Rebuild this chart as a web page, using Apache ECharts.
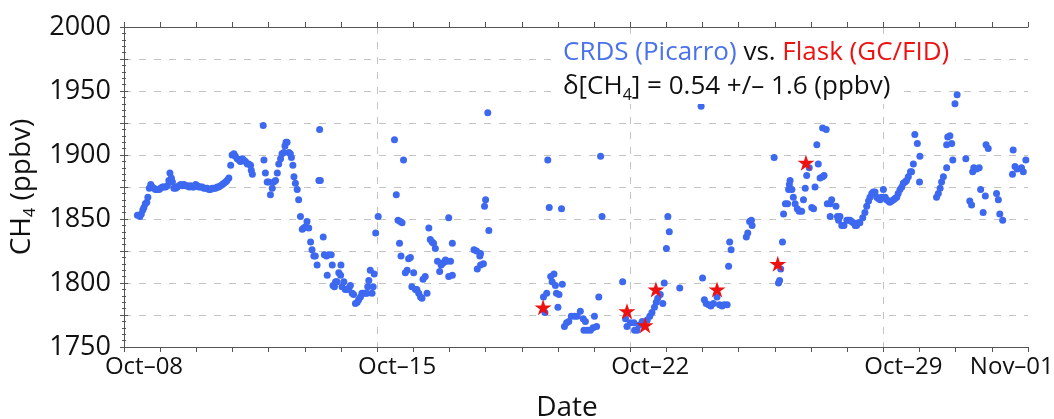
<!DOCTYPE html>
<html><head><meta charset="utf-8">
<script src="https://cdn.jsdelivr.net/npm/echarts@6/dist/echarts.min.js"></script>
<style>html,body{margin:0;padding:0;background:#fff}#c{width:1054px;height:419px}</style>
</head><body><div id="c"></div>
<script>
// days since Oct-08 00:00
const crdsDay = [
0.37,0.44,0.48,0.52,0.55,0.59,0.63,0.66,0.70,0.74,0.78,0.83,0.87,0.92,0.97,1.01,1.06,1.10,1.15,1.20,1.24,1.27,1.31,1.34,1.38,1.43,1.47,1.52,1.57,1.61,1.66,1.70,1.75,1.80,1.84,1.89,1.93,1.98,2.03,2.07,2.12,2.16,2.21,2.26,2.30,2.35,2.39,2.44,2.49,2.53,2.58,2.62,2.67,2.72,2.76,2.81,2.85,2.90,2.95,2.99,3.04,3.08,3.13,3.18,3.22,3.27,3.31,3.36,3.41,3.45,3.50,3.52,3.55,
3.85,3.87,3.91,3.96,4.00,4.05,4.10,4.14,4.19,4.24,4.28,4.33,4.37,4.42,4.45,4.48,4.51,4.56,4.60,4.63,4.67,4.70,4.74,4.79,4.83,4.88,4.93,4.97,5.02,5.06,5.11,5.16,5.20,5.25,5.29,5.34,5.39,5.41,5.43,5.51,5.54,5.60,5.62,5.66,5.73,5.76,5.78,5.82,5.85,5.89,5.94,5.99,6.00,6.03,6.08,6.12,6.17,6.22,6.26,6.31,6.35,6.40,6.45,6.49,6.54,6.58,6.63,6.68,6.72,6.74,6.77,6.81,6.86,6.89,6.92,6.96,7.03,
7.48,7.53,7.58,7.62,7.64,7.66,7.69,7.73,7.78,7.83,7.87,7.92,7.96,8.01,8.06,8.10,8.15,8.20,8.24,8.27,8.33,8.38,8.43,8.47,8.52,8.56,8.61,8.67,8.73,8.77,8.79,8.84,8.89,8.93,8.98,8.98,9.03,9.08,9.08,
9.68,9.75,9.77,9.84,9.86,9.86,9.94,9.97,10.00,10.06,10.09,
11.60,11.64,11.69,11.72,11.76,11.80,11.84,11.89,11.93,11.96,12.00,12.03,12.10,12.12,
12.18,12.24,12.30,12.37,12.46,12.53,12.62,12.70,12.72,12.76,12.81,12.90,12.97,13.01,13.07,13.13,13.18,13.22,
13.79,13.87,13.91,14.00,14.10,14.12,14.19,14.24,14.33,14.47,14.54,14.60,14.67,14.72,14.76,14.83,14.90,14.94,15.00,15.04,15.08,15.37,
15.96,16.00,16.05,16.10,16.17,16.23,16.30,16.40,16.47,16.54,16.60,16.68,16.72,16.75,16.79,17.21,17.25,17.30,17.35,17.37,
17.98,18.10,18.13,18.16,18.21,18.24,18.29,18.35,18.38,18.40,18.42,18.47,18.51,18.56,18.62,18.67,18.74,18.79,18.84,18.88,18.95,19.02,19.07,19.11,19.16,19.20,19.25,19.32,19.32,19.36,19.42,19.45,19.53,19.53,19.57,19.69,19.73,19.76,19.80,19.85,19.91,19.99,20.03,20.08,20.12,20.17,20.22,20.26,20.31,20.35,20.43,20.49,20.54,20.59,20.63,20.68,20.72,20.77,20.82,20.86,20.91,20.95,21.00,21.05,21.09,21.14,21.18,21.23,21.28,21.32,21.37,21.41,21.46,21.51,21.55,21.60,21.64,21.69,21.75,21.78,21.83,21.87,21.94,22.00,22.01,
22.47,22.52,22.57,22.61,22.66,22.75,22.75,22.78,22.84,22.89,22.92,22.98,23.04,23.28,23.39,23.44,23.47,23.50,23.58,23.65,23.69,23.76,23.82,23.84,23.90,24.13,24.18,24.22,24.30,24.57,24.59,24.64,24.70,24.82,24.87,24.94
];
const crdsCH4 = [
1853,1852,1854,1857,1859,1862,1863,1867,1874,1877,1875,1874,1873,1873,1873,1874,1875,1875,1875,1876,1880,1886,1882,1879,1874,1874,1875,1876,1877,1876,1877,1876,1876,1875,1876,1875,1875,1877,1876,1875,1875,1875,1874,1874,1874,1873,1873,1874,1874,1874,1875,1875,1876,1877,1878,1879,1880,1882,1892,1900,1901,1899,1897,1896,1895,1897,1896,1895,1893,1893,1892,1888,1885,
1923,1896,1886,1879,1879,1869,1874,1879,1880,1886,1893,1897,1901,1902,1907,1910,1910,1902,1901,1898,1892,1883,1878,1873,1865,1852,1842,1843,1844,1848,1843,1832,1826,1821,1821,1814,1880,1920,1880,1836,1822,1821,1806,1822,1822,1814,1798,1797,1801,1801,1808,1806,1814,1797,1801,1795,1795,1796,1798,1792,1791,1784,1785,1787,1789,1792,1792,1792,1792,1797,1802,1810,1792,1797,1807,1839,1852,
1912,1869,1849,1831,1848,1821,1847,1896,1808,1810,1819,1820,1797,1808,1795,1795,1792,1789,1788,1803,1805,1792,1843,1834,1832,1831,1827,1817,1809,1814,1815,1816,1818,1817,1805,1851,1817,1831,1806,
1826,1825,1811,1821,1823,1814,1815,1860,1865,1933,1841,
1789,1777,1792,1896,1859,1805,1801,1807,1798,1792,1781,1791,1858,1799,
1766,1769,1770,1774,1774,1774,1778,1772,1763,1770,1763,1763,1765,1774,1766,1789,1899,1852,
1801,1772,1766,1769,1769,1763,1763,1767,1770,1771,1774,1777,1781,1785,1788,1791,1784,1800,1827,1852,1840,1796,
1938,1804,1787,1784,1783,1782,1784,1789,1783,1782,1783,1783,1813,1832,1826,1836,1839,1848,1849,1845,
1898,1800,1802,1811,1832,1854,1862,1862,1873,1877,1880,1873,1867,1862,1858,1856,1856,1865,1874,1884,1890,1859,1858,1875,1908,1893,1882,1883,1921,1884,1920,1862,1862,1852,1865,1860,1852,1849,1852,1845,1845,1849,1849,1849,1848,1847,1845,1845,1847,1847,1851,1855,1860,1864,1867,1870,1871,1871,1867,1866,1865,1867,1873,1867,1865,1864,1863,1864,1865,1866,1867,1870,1873,1875,1878,1879,1880,1883,1887,1887,1893,1916,1909,1879,1899,
1867,1870,1874,1879,1883,1890,1908,1914,1915,1909,1896,1940,1947,1897,1864,1861,1887,1890,1889,1890,1873,1855,1868,1908,1905,1870,1865,1854,1849,1885,1904,1891,1889,1890,1887,1896
];
const flaskDay = [11.59, 13.91, 14.41, 14.71, 16.40, 18.08, 18.86];
const flaskCH4 = [1781, 1778, 1767, 1795, 1795, 1815, 1894];
const xTickDays = [0, 7, 14, 21, 24];
const xTickLabels = ['Oct–08', 'Oct–15', 'Oct–22', 'Oct–29', 'Nov–01'];
const yLabelStep = 50;

const FONT = 'Open Sans';
const AX = '#555';
const GRID = '#c4c4c4';
const crdsData = crdsDay.map((d, i) => [d, crdsCH4[i]]);
const flaskData = flaskDay.map((d, i) => [d, flaskCH4[i]]);
const STAR = 'path://M50,0 L61.2,34.5 L97.6,34.5 L68.2,55.9 L79.4,90.5 L50,69.1 L20.6,90.5 L31.8,55.9 L2.4,34.5 L38.8,34.5 Z';

const chart = echarts.init(document.getElementById('c'), null, {renderer: 'canvas'});
chart.setOption({
  animation: false,
  backgroundColor: '#fff',
  grid: {left: 124, right: 26, top: 27, bottom: 72, containLabel: false, outerBoundsMode: 'none'},
  xAxis: [
    {type: 'value', position: 'bottom', min: 0, max: 25, interval: 1,
     axisLine: {show: true, lineStyle: {color: AX, width: 1}},
     axisTick: {show: true, inside: false, length: 5, lineStyle: {color: AX}},
     axisLabel: {color: '#111', fontFamily: FONT, fontSize: 24, margin: 8, padding: [0, 0, 0, 40],
       showMinLabel: true, showMaxLabel: true,
       formatter: v => { const k = xTickDays.indexOf(Math.round(v)); return k >= 0 && Math.abs(v - xTickDays[k]) < 1e-6 ? xTickLabels[k] : ''; }},
     splitLine: {show: false},
     name: 'Date', nameLocation: 'middle', nameGap: 47,
     nameTextStyle: {color: '#111', fontFamily: FONT, fontSize: 28, padding: [0, 18, 0, 0]}},
    {type: 'value', position: 'top', min: 0, max: 25, interval: 1,
     axisLine: {show: true, lineStyle: {color: AX}},
     axisTick: {show: true, inside: false, length: 5, lineStyle: {color: AX}},
     axisLabel: {show: false}, splitLine: {show: false}},
    {type: 'value', position: 'bottom', min: 0, max: 25, interval: 7, gridIndex: 0,
     axisLine: {show: false}, axisTick: {show: false}, axisLabel: {show: false},
     splitLine: {show: true, showMinLine: false, showMaxLine: false,
       lineStyle: {color: GRID, type: [7, 8], width: 1}}}
  ],
  yAxis: [
    {type: 'value', position: 'left', min: 1750, max: 2000, interval: 25,
     axisLine: {show: true, lineStyle: {color: AX}},
     axisTick: {show: true, inside: false, length: 4, lineStyle: {color: AX}},
     minorTick: {show: true, splitNumber: 5, length: 2, lineStyle: {color: AX}},
     axisLabel: {color: '#111', fontFamily: FONT, fontSize: 27, margin: 13,
       formatter: v => (v % yLabelStep === 0 ? String(v) : '')},
     splitLine: {show: true, showMinLine: false, showMaxLine: false,
       lineStyle: {color: GRID, type: [7, 8], width: 1}},
     name: '{m|CH}{s|4}{m| (ppbv)}', nameLocation: 'middle', nameGap: 86, nameRotate: 90,
     nameTextStyle: {color: '#111', fontFamily: FONT,
       rich: {m: {fontFamily: FONT, fontSize: 28, color: '#111', lineHeight: 32},
              s: {fontFamily: FONT, fontSize: 16, color: '#111', lineHeight: 24, verticalAlign: 'bottom'}}}},
    {type: 'value', position: 'right', min: 1750, max: 2000, interval: 25,
     axisLine: {show: true, lineStyle: {color: AX}},
     axisTick: {show: true, inside: false, length: 4, lineStyle: {color: AX}},
     minorTick: {show: true, splitNumber: 5, length: 2, lineStyle: {color: AX}},
     axisLabel: {show: false}, splitLine: {show: false}}
  ],
  series: [
    {type: 'scatter', name: 'CRDS (Picarro)', xAxisIndex: 0, yAxisIndex: 0, data: crdsData,
     symbol: 'circle', symbolSize: 7, itemStyle: {color: '#3d68f0', opacity: 1}, z: 3},
    {type: 'scatter', name: 'Flask (GC/FID)', xAxisIndex: 0, yAxisIndex: 0, data: flaskData,
     symbol: STAR, symbolSize: [17, 16], itemStyle: {color: '#ee1111', opacity: 1}, z: 4}
  ],
  graphic: [
    {type: 'text', left: 557, top: 36, z: 10,
     style: {text: '{b|CRDS (Picarro) }{k|vs. }{r|Flask (GC/FID)}',
       backgroundColor: '#fff', padding: [1, 6, 1, 6],
       rich: {b: {fill: '#4a72ea', fontFamily: FONT, fontSize: 26, lineHeight: 32},
              k: {fill: '#111', fontFamily: FONT, fontSize: 26, lineHeight: 32},
              r: {fill: '#ee1111', fontFamily: FONT, fontSize: 26, lineHeight: 32}}}},
    {type: 'text', left: 557, top: 70, z: 10,
     style: {text: '{k|δ[CH}{s|4}{k|] = 0.54 +/– 1.6 (ppbv)}',
       backgroundColor: '#fff', padding: [1, 6, 1, 6],
       rich: {k: {fill: '#111', fontFamily: FONT, fontSize: 26, lineHeight: 32},
              s: {fill: '#111', fontFamily: FONT, fontSize: 16, lineHeight: 24, verticalAlign: 'bottom'}}}}
  ]
});
</script></body></html>
